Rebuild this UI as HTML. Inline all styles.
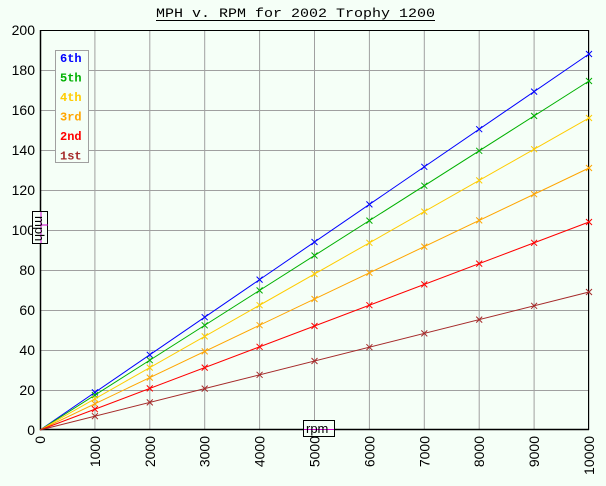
<!DOCTYPE html>
<html><head><meta charset="utf-8"><style>
html,body{margin:0;padding:0;background:#f5fff7;}
svg{display:block}
</style></head><body>
<svg id="s" width="606" height="486" xmlns="http://www.w3.org/2000/svg" font-family="Liberation Sans, sans-serif"></svg>
<script>
var s='';
s+='<rect width="606" height="486" fill="#f5fff7"/>';
// grid
for(var i=1;i<=10;i++){var x=40+54.9*i;s+='<line x1="'+x+'" y1="30" x2="'+x+'" y2="430" stroke="#a0a0a0" stroke-width="1"/>';}
for(var j=1;j<=10;j++){var y=430-40*j+0.5;s+='<line x1="40" y1="'+y+'" x2="589" y2="'+y+'" stroke="#a0a0a0" stroke-width="1"/>';}
// frame
s+='<polyline points="40.5,30 40.5,429.5 589,429.5" fill="none" stroke="#000" stroke-width="1.5"/>';
s+='<line x1="40" y1="30.5" x2="589" y2="30.5" stroke="#000"/>';
s+='<line x1="588.5" y1="30" x2="588.5" y2="430" stroke="#000"/>';
// y labels
for(var j=0;j<=10;j++){var y=430-40*j+5;s+='<text x="35" y="'+y+'" font-size="14" text-anchor="end">'+(j*20)+'</text>';}
// x labels rotated
for(var i=0;i<=10;i++){var x=40+54.9*i+5;s+='<text transform="translate('+x+',436) rotate(-90)" font-size="14" text-anchor="end">'+(i*1000)+'</text>';}
// series
var ser=[[18.8,'#0000ff'],[17.45,'#00b000'],[15.6,'#ffcc00'],[13.1,'#ffa500'],[10.4,'#ff0000'],[6.9,'#a52a2a']];
ser.forEach(function(a){
 var y2=430-2*a[0]*10;
 s+='<line x1="40" y1="430" x2="589" y2="'+y2+'" stroke="'+a[1]+'" stroke-width="1"/>';
 for(var i=1;i<=10;i++){var x=40+54.9*i,y=430-2*a[0]*i;
  s+='<path d="M'+(x-3)+' '+(y-3)+'L'+(x+3)+' '+(y+3)+'M'+(x-3)+' '+(y+3)+'L'+(x+3)+' '+(y-3)+'" stroke="'+a[1]+'" stroke-width="1"/>';}
});
// title
s+='<text x="156" y="17" font-family="Liberation Mono, monospace" font-size="13.3" textLength="279" lengthAdjust="spacingAndGlyphs">MPH v. RPM for 2002 Trophy 1200</text>';
s+='<line x1="156" y1="20.5" x2="435" y2="20.5" stroke="#000"/>';
// legend
s+='<rect x="55.5" y="50.5" width="33" height="112" fill="#f5fff7" stroke="#a0a0a0"/>';
var lg=[['6th','#0000ff'],['5th','#00b000'],['4th','#ffcc00'],['3rd','#ffa500'],['2nd','#ff0000'],['1st','#a52a2a']];
lg.forEach(function(a,k){s+='<text x="60" y="'+(62+k*19.5)+'" font-family="Liberation Mono, monospace" font-weight="bold" font-size="12" fill="'+a[1]+'">'+a[0]+'</text>';});
// axis labels
s+='<rect x="32.5" y="211.5" width="15" height="32" fill="#f5fff7" stroke="#000"/>';
s+='<line x1="40" y1="225" x2="48" y2="225" stroke="#cc00cc"/><line x1="41" y1="212" x2="41" y2="243" stroke="#cc00cc"/>';
s+='<text transform="translate(35,216) rotate(90)" font-size="13">mph</text>';
s+='<rect x="303.5" y="420.5" width="31" height="16" fill="#f5fff7" stroke="#000"/>';
s+='<line x1="304" y1="429.5" x2="334" y2="429.5" stroke="#cc00cc"/>';
s+='<text x="306" y="433" font-size="13">rpm</text>';
document.getElementById('s').innerHTML=s;
</script>
</body></html>
